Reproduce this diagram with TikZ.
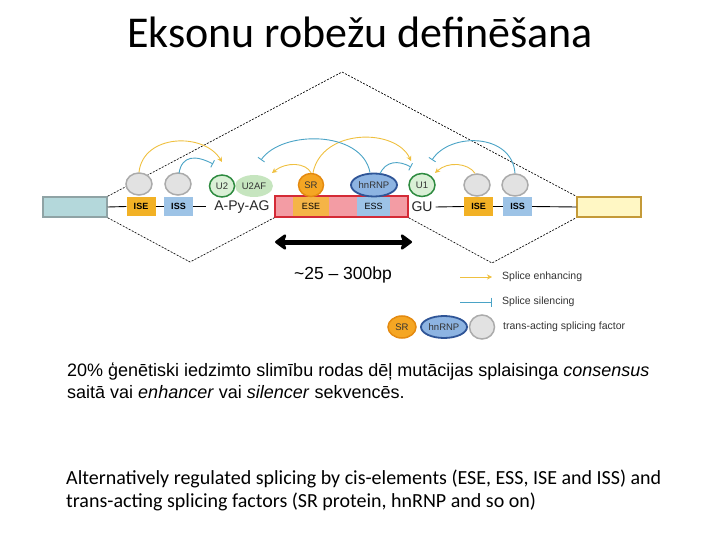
\documentclass[tikz,border=0pt]{standalone}
\usepackage{fontspec}
\setmainfont{Liberation Sans}
\newfontfamily\calibri{Carlito}
\usetikzlibrary{arrows.meta,calc,shapes.geometric}
\definecolor{tealbox}{HTML}{B4D8DB}
\definecolor{tealedge}{HTML}{8FA3A5}
\definecolor{isecol}{HTML}{F2B125}
\definecolor{isscol}{HTML}{9DC3E6}
\definecolor{exonfill}{HTML}{F39CA4}
\definecolor{exonedge}{HTML}{D42A36}
\definecolor{esecol}{HTML}{F5B447}
\definecolor{grayfill}{HTML}{E2E2E2}
\definecolor{grayedge}{HTML}{ABABAB}
\definecolor{ufill}{HTML}{DAF0D6}
\definecolor{uedge}{HTML}{2E8B40}
\definecolor{u2af}{HTML}{C6E5BF}
\definecolor{srfill}{HTML}{F5A623}
\definecolor{sredge}{HTML}{E48A10}
\definecolor{hnfill}{HTML}{8DB4E2}
\definecolor{hnedge}{HTML}{2F5597}
\definecolor{yelbox}{HTML}{FFF7C4}
\definecolor{yeledge}{HTML}{C49A38}
\definecolor{enh}{HTML}{EFC040}
\definecolor{sil}{HTML}{4AA3C6}
\begin{document}
\begin{tikzpicture}[x=1pt,y=-1pt,
  box/.style={rectangle,inner sep=0pt,minimum height=20pt},
  elem/.style={rectangle,inner sep=0pt,minimum height=19pt,minimum width=29pt,font=\fontsize{9}{10}\selectfont\bfseries},
  factor/.style={ellipse,inner sep=0pt,line width=1.5pt,font=\fontsize{9.5}{10}\selectfont,text=black!80},
  gcirc/.style={factor,fill=grayfill,draw=grayedge,minimum width=26pt,minimum height=22pt},
  dline/.style={dash pattern=on 2pt off 1.4pt,line width=0.65pt},
  enharr/.style={draw=enh,line width=0.9pt,-{Stealth[length=5pt,width=5pt]}},
  silarr/.style={draw=sil,line width=0.9pt,-{Bar[width=8pt]}},
  legtext/.style={anchor=west,inner sep=0pt,font=\fontsize{10.5}{11}\selectfont,text=black!80}]
\useasboundingbox (0,0) rectangle (720,540);

% title
\node[font=\calibri\fontsize{44}{50}\selectfont] (title) at (360,32) {Eksonu robežu definēšana};

\coordinate (apex) at (342,72);
\coordinate (lowL) at (190,262);
\coordinate (lowR) at (492,263);

% boxes on the strand
\node[box,fill=tealbox,draw=tealedge,line width=1.5pt,minimum width=64pt] (lbox) at (75,207) {};
\node[elem,fill=isecol] (ise1) at (141,206.5) {ISE};
\node[elem,fill=isscol] (iss1) at (178.5,206.5) {ISS};
\node[inner sep=0pt,font=\fontsize{14}{16}\selectfont,text=black!85] (apyag) at (242,207) {A-Py-AG};
\node[rectangle,inner sep=0pt,minimum width=133pt,minimum height=21pt,fill=exonfill,draw=exonedge,line width=1.5pt] (exon) at (341.5,206.5) {};
\node[elem,fill=esecol,minimum width=36pt,font=\fontsize{9}{10}\selectfont] (ese) at (311,206.5) {ESE};
\node[elem,fill=isscol,minimum width=33pt,font=\fontsize{9}{10}\selectfont] (ess) at (373.5,206.5) {ESS};
\node[inner sep=0pt,font=\fontsize{14}{16}\selectfont,text=black!85] (gu) at (422,207) {GU};
\node[elem,fill=isecol] (ise2) at (478.5,206.5) {ISE};
\node[elem,fill=isscol] (iss2) at (517.5,206.5) {ISS};
\node[box,fill=yelbox,draw=yeledge,line width=1.5pt,minimum width=64pt] (rbox) at (609,207) {};

\draw[line width=0.9pt] (lbox.east) -- (ise1.west);
\draw[line width=0.9pt] (ise1.east) -- (iss1.west);
\draw[line width=0.9pt] (iss1.east) -- ++(13,0) coordinate (iss1end);
\draw[line width=0.9pt] (gu.east) ++(3,0) coordinate (gustart) -- (ise2.west);
\draw[line width=0.9pt] (ise2.east) -- (iss2.west);
\draw[line width=0.9pt] (iss2.east) -- (rbox.west);

\draw[dline] (lbox.north east) -- (apex) -- (rbox.north west);
\draw[dline] (lbox.south east) -- (lowL) -- (exon.south west);
\draw[dline] (exon.south east) -- (lowR) -- (rbox.south west);

% factors
\node[gcirc] (g1) at (139,184) {};
\node[gcirc] (g2) at (178,184) {};
\node[factor,fill=u2af,minimum width=38pt,minimum height=22pt,line width=0pt] (u2af) at (254,186) {U2AF};
\node[factor,fill=ufill,draw=uedge,minimum width=25pt,minimum height=22pt] (u2) at (222,186) {U2};
\node[factor,fill=srfill,draw=sredge,minimum width=25pt,minimum height=23pt] (sr) at (311,185) {SR};
\node[factor,fill=hnfill,draw=hnedge,line width=1.8pt,minimum width=46pt,minimum height=23pt] (hn) at (374,185) {hnRNP};
\node[factor,fill=ufill,draw=uedge,minimum width=26pt,minimum height=23pt] (u1) at (422,185) {U1};
\node[gcirc] (g3) at (477,185) {};
\node[gcirc] (g4) at (515,185) {};

% regulation arrows
\coordinate (tA) at (222,162);
\coordinate (tB) at (213,164);
\coordinate (tC) at (272,173);
\coordinate (tD) at (411,161);
\coordinate (tE) at (261,160);
\coordinate (tF) at (411,167);
\coordinate (tG) at (435,173);
\coordinate (tH) at (432,160);
\draw[enharr] (g1.north) .. controls (143,134) and (204,132) .. (tA);
\draw[silarr] ($(g2.north)+(1,1)$) .. controls (182,155) and (196,155) .. (tB);
\draw[enharr] (sr.north) .. controls (306,163) and (287,161) .. (tC);
\draw[enharr] ($(sr.north)+(2,0)$) .. controls (322,128) and (396,128) .. (tD);
\draw[silarr] ($(hn.north)+(-4,0)$) .. controls (362,130) and (282,130) .. (tE);
\draw[silarr] ($(hn.north)+(6,1)$) .. controls (386,161) and (398,160) .. (tF);
\draw[enharr] ($(g3.north)+(-2,0)$) .. controls (468,163) and (448,161) .. (tG);
\draw[silarr] (g4.north) .. controls (512,133) and (450,132) .. (tH);

% length arrow
\coordinate (lenL) at (275,242);
\coordinate (lenR) at (412,242);
\draw[line width=5pt,{Stealth[length=13pt,width=19pt,inset=3pt,round]}-{Stealth[length=13pt,width=19pt,inset=3pt,round]}] (lenL) -- (lenR);
\node[font=\fontsize{17.5}{19}\selectfont] (len) at (343,275) {\textasciitilde 25 – 300bp};

% legend
\coordinate (le1) at (460,277);
\coordinate (le2) at (492,277);
\draw[draw=enh,line width=0.9pt,-{Stealth[length=5pt,width=5pt]}] (le1) -- (le2);
\node[legtext] (lt1) at (502,277) {Splice enhancing};
\coordinate (ls1) at (460,302);
\coordinate (ls2) at (492,302);
\draw[draw=sil,line width=0.9pt,-{Bar[width=9pt]}] (ls1) -- (ls2);
\node[legtext] (lt2) at (502,302) {Splice silencing};
\node[factor,fill=srfill,draw=sredge,minimum width=28pt,minimum height=22pt] (lsr) at (402,327) {SR};
\node[factor,fill=hnfill,draw=hnedge,line width=1.8pt,minimum width=46pt,minimum height=22pt] (lhn) at (444,327) {hnRNP};
\node[gcirc,minimum width=25pt,minimum height=24pt] (lg) at (482,327) {};
\node[legtext] (lt3) at (503,327) {trans-acting splicing factor};

% paragraphs
\node[anchor=west,align=left,inner sep=0pt,font=\fontsize{18}{22}\selectfont] (p1) at (67,381)
  {20\% ģenētiski iedzimto slimību rodas dēļ mutācijas splaisinga \textit{consensus}\\saitā vai \textit{enhancer} vai \textit{silencer} sekvencēs.};
\node[anchor=west,align=left,inner sep=0pt,font=\calibri\fontsize{20}{23}\selectfont] (p2) at (66,490.5)
  {Alternatively regulated splicing by cis-elements (ESE, ESS, ISE and ISS) and\\trans-acting splicing factors (SR protein, hnRNP and so on)};
\end{tikzpicture}
\end{document}
